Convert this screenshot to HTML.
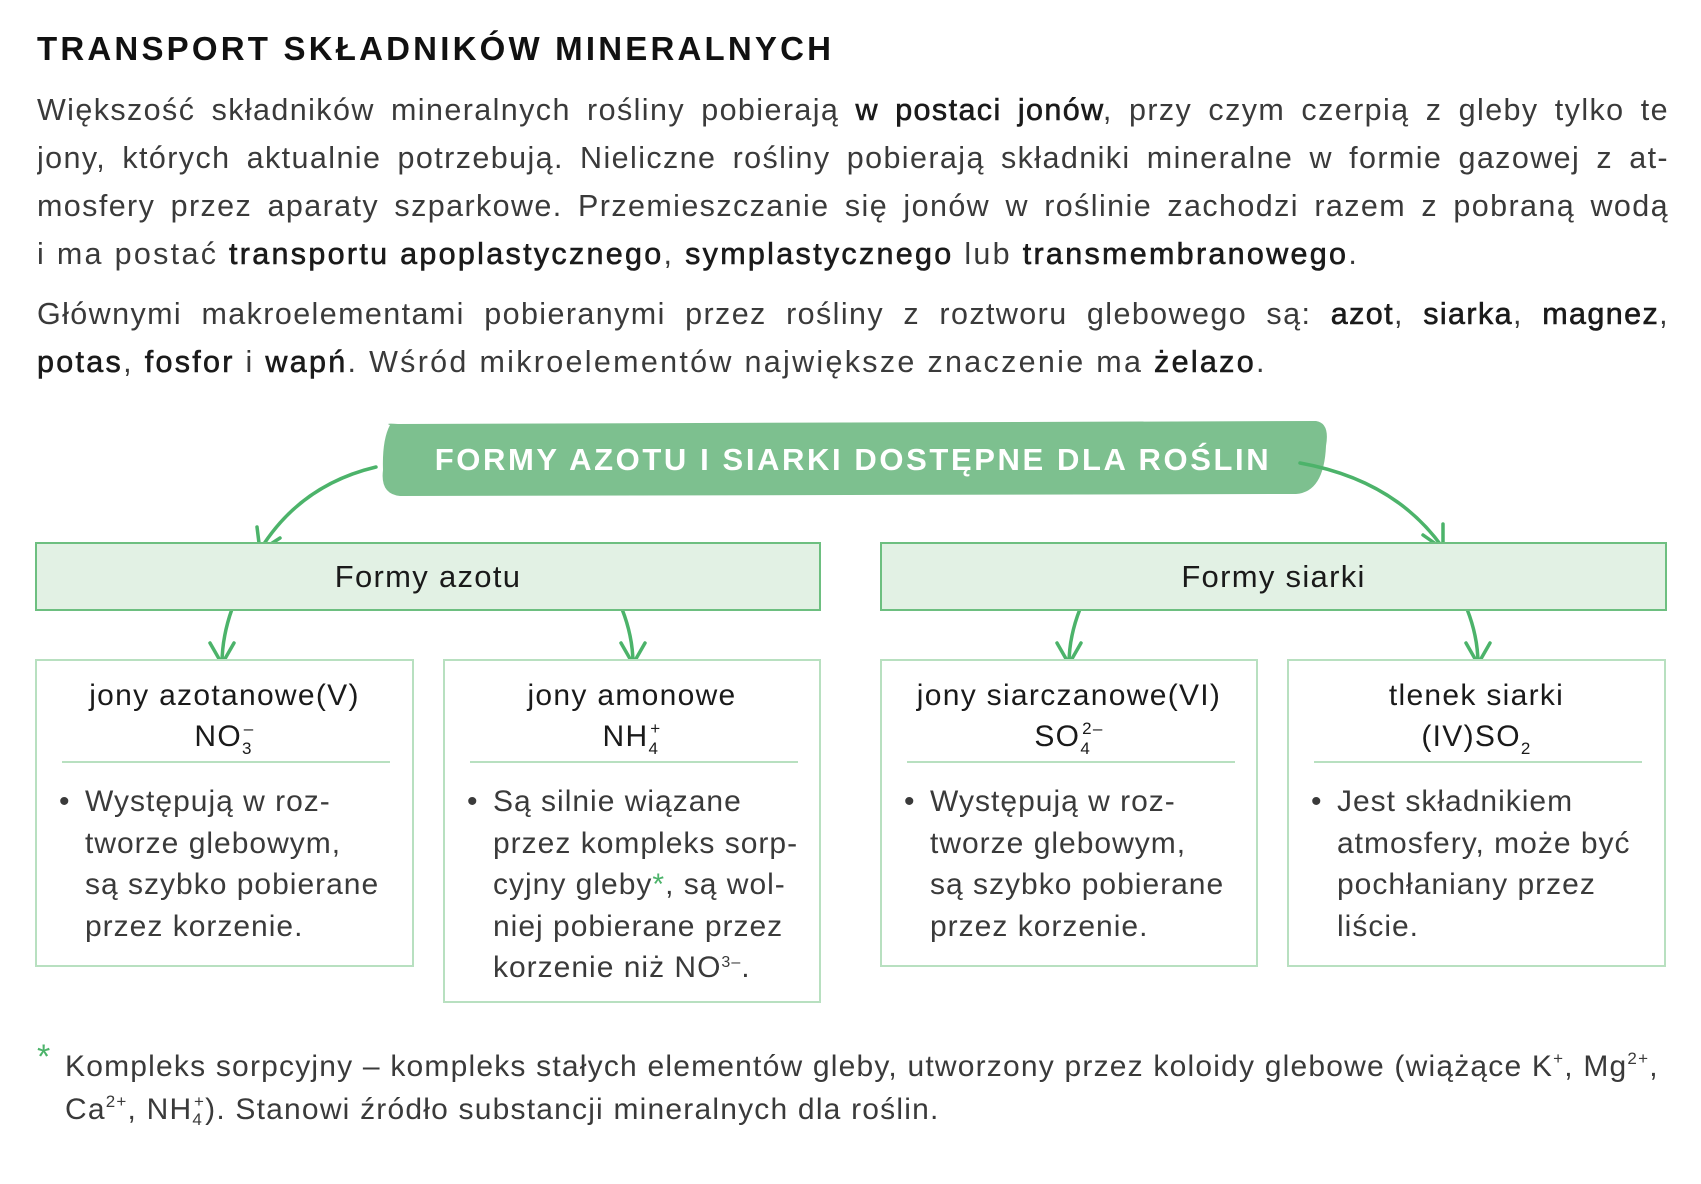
<!DOCTYPE html>
<html><head><meta charset="utf-8"><style>
body{margin:0;width:1701px;height:1184px;background:#fff;position:relative;overflow:hidden;font-family:"Liberation Sans",sans-serif;color:#2b2b2b}
.a{position:absolute;white-space:nowrap}
.t{font-weight:bold;font-size:33px;color:#111;left:37px;top:30px;letter-spacing:3.2px}
.p{position:absolute;left:37px;width:1632px;font-size:30.5px;line-height:48px;color:#3a3a3a;letter-spacing:2.3px;white-space:nowrap}
.j{text-align:justify;text-align-last:justify;height:48px;white-space:normal;letter-spacing:1.4px;overflow:hidden}
b{color:#1a1a1a;font-weight:normal;-webkit-text-stroke:0.6px #1a1a1a}
.box{position:absolute;border:2px solid #b8e0c0;background:#fff;box-sizing:border-box}
.hb{position:absolute;border:2px solid #6dbf80;background:#e2f1e4;box-sizing:border-box;font-size:31px;text-align:center;line-height:65px;color:#1a1a1a;letter-spacing:1.3px}
.h{position:absolute;left:0;right:0;text-align:center;font-size:30px;line-height:41px;color:#1a1a1a;letter-spacing:1.3px}
.sep{position:absolute;height:2px;background:#b8e0c0}
.li{position:absolute;font-size:30px;line-height:41.5px;color:#3a3a3a;white-space:nowrap;letter-spacing:1px}
.li:before{content:"•";position:absolute;left:-26px}
sub,sup{font-size:17px;line-height:0}
</style></head><body>
<div class="a t">TRANSPORT SKŁADNIKÓW MINERALNYCH</div>
<div class="p" style="top:86px">
<div class="j">Większość składników mineralnych rośliny pobierają <b>w postaci jonów</b>, przy czym czerpią z gleby tylko te</div>
<div class="j">jony, których aktualnie potrzebują. Nieliczne rośliny pobierają składniki mineralne w formie gazowej z at-</div>
<div class="j">mosfery przez aparaty szparkowe. Przemieszczanie się jonów w roślinie zachodzi razem z pobraną wodą</div>
<div>i ma postać <b>transportu apoplastycznego</b>, <b>symplastycznego</b> lub <b>transmembranowego</b>.</div>
</div>
<div class="p" style="top:290px">
<div class="j">Głównymi makroelementami pobieranymi przez rośliny z roztworu glebowego są: <b>azot</b>, <b>siarka</b>, <b>magnez</b>,</div>
<div><b>potas</b>, <b>fosfor</b> i <b>wapń</b>. Wśród mikroelementów największe znaczenie ma <b>żelazo</b>.</div>
</div>

<svg class="a" style="left:0;top:0" width="1701" height="1184">
<path d="M390 425 Q384 423 398 424 L1316 421 Q1330 423 1326 446 Q1324 492 1296 494 L400 496 Q380 494 383 470 Q382 440 390 425Z" fill="#7dc08f"/>
<g fill="none" stroke="#4cb36a" stroke-width="3.5" stroke-linecap="round">
<path d="M376 467 Q300 485 260 550"/><path d="M257 527 L260 551 L280 538"/>
<path d="M1300 463 Q1395 480 1443 548"/><path d="M1423 535 L1443 549 L1443 524"/>
<path d="M232 609 Q222 637 222 664"/><path d="M210 643 L222 664 L234 643"/>
<path d="M622 609 Q633 637 633 664"/><path d="M621 643 L633 664 L645 643"/>
<path d="M1080 609 Q1069 637 1069 664"/><path d="M1057 643 L1069 664 L1081 643"/>
<path d="M1467 609 Q1478 637 1478 664"/><path d="M1466 643 L1478 664 L1490 643"/>
</g>
<text x="853" y="470" text-anchor="middle" font-family="Liberation Sans" font-weight="bold" font-size="31" letter-spacing="2.6" fill="#fff">FORMY AZOTU I SIARKI DOSTĘPNE DLA ROŚLIN</text>
</svg>

<div class="hb" style="left:35px;top:542px;width:786px;height:69px">Formy azotu</div>
<div class="hb" style="left:880px;top:542px;width:787px;height:69px">Formy siarki</div>

<div class="box" style="left:35px;top:659px;width:379px;height:308px">
<div class="h" style="top:14px">jony azotanowe(V)<br>NO<sub style="vertical-align:-8px">3</sub><sup style="margin-left:-9px;vertical-align:12px">–</sup></div>
<div class="sep" style="left:25px;width:328px;top:100px"></div>
<div class="li" style="left:48px;top:120px">Występują w roz-<br>tworze glebowym,<br>są szybko pobierane<br>przez korzenie.</div>
</div>
<div class="box" style="left:443px;top:659px;width:378px;height:344px">
<div class="h" style="top:14px">jony amonowe<br>NH<sub style="vertical-align:-8px">4</sub><sup style="margin-left:-9px;vertical-align:12px">+</sup></div>
<div class="sep" style="left:25px;width:328px;top:100px"></div>
<div class="li" style="left:48px;top:120px">Są silnie wiązane<br>przez kompleks sorp-<br>cyjny gleby<span style="color:#4cb36a">*</span>, są wol-<br>niej pobierane przez<br>korzenie niż NO<sup style="font-size:16px;vertical-align:10px">3–</sup>.</div>
</div>
<div class="box" style="left:880px;top:659px;width:378px;height:308px">
<div class="h" style="top:14px">jony siarczanowe(VI)<br>SO<sub style="vertical-align:-8px">4</sub><sup style="margin-left:-9px;vertical-align:12px">2–</sup></div>
<div class="sep" style="left:25px;width:328px;top:100px"></div>
<div class="li" style="left:48px;top:120px">Występują w roz-<br>tworze glebowym,<br>są szybko pobierane<br>przez korzenie.</div>
</div>
<div class="box" style="left:1287px;top:659px;width:379px;height:308px">
<div class="h" style="top:14px">tlenek siarki<br>(IV)SO<sub style="vertical-align:-8px">2</sub></div>
<div class="sep" style="left:25px;width:328px;top:100px"></div>
<div class="li" style="left:48px;top:120px">Jest składnikiem<br>atmosfery, może być<br>pochłaniany przez<br>liście.</div>
</div>

<div class="a" style="left:37px;top:1038px;font-size:34px;color:#4cb36a">*</div>
<div class="a" style="left:65px;top:1045px;font-size:30px;line-height:43px;color:#3a3a3a;letter-spacing:1.2px">Kompleks sorpcyjny – kompleks stałych elementów gleby, utworzony przez koloidy glebowe (wiążące K<sup style="vertical-align:12px">+</sup>, Mg<sup style="vertical-align:12px">2+</sup>,<br>Ca<sup style="vertical-align:12px">2+</sup>, NH<sub style="vertical-align:-6px">4</sub><sup style="margin-left:-9px;vertical-align:12px">+</sup>). Stanowi źródło substancji mineralnych dla roślin.</div>
</body></html>
